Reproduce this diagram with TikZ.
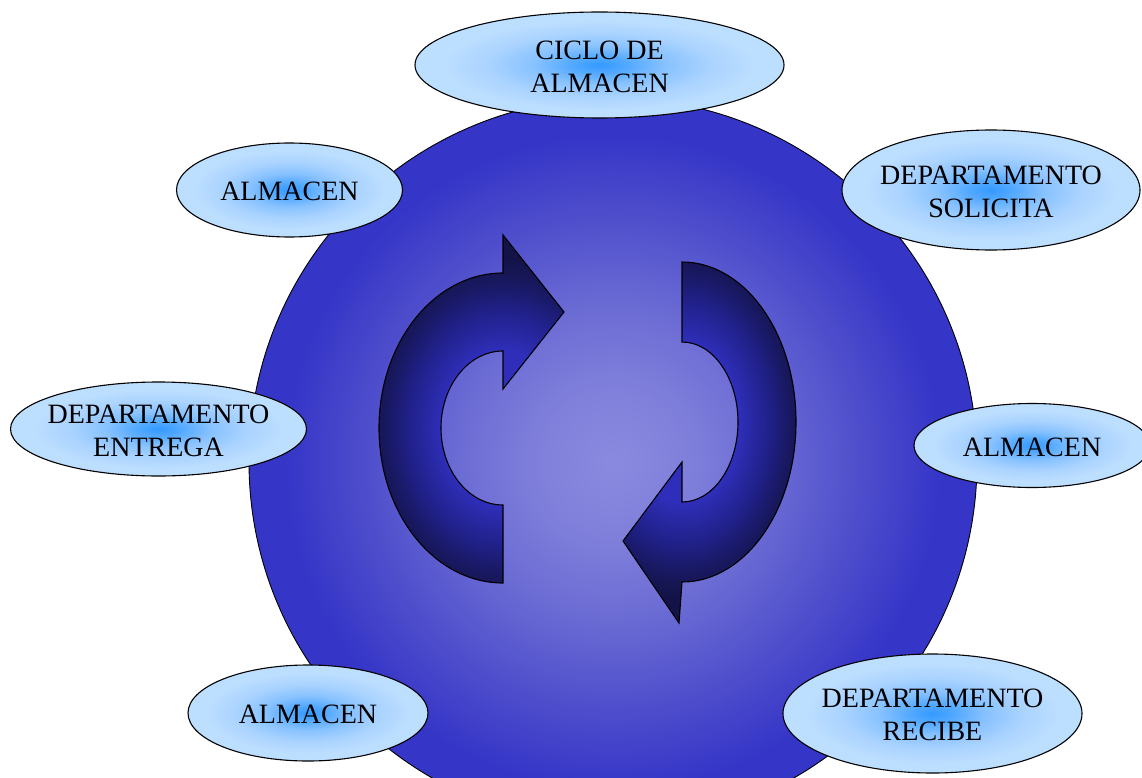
\documentclass[tikz,border=0pt]{standalone}
\usepackage{fontspec}
\setmainfont{Liberation Serif}
\usetikzlibrary{shapes.geometric}

% palette
\definecolor{diskC}{HTML}{8A8AE0}
\definecolor{diskB}{HTML}{8080DB}
\definecolor{diskM}{HTML}{6A6AD4}
\definecolor{diskN}{HTML}{4E4ECC}
\definecolor{diskE}{HTML}{3535C8}
\definecolor{bubC}{HTML}{3399FF}
\definecolor{bubB}{HTML}{55AAFF}
\definecolor{bubM}{HTML}{88C2FF}
\definecolor{bubN}{HTML}{AAD3FF}
\definecolor{bubE}{HTML}{BCDEFF}
\definecolor{bandL}{HTML}{2E2EBA}
\definecolor{bandA}{HTML}{2929A6}
\definecolor{bandB}{HTML}{21218C}
\definecolor{bandC}{HTML}{1A1A6A}
\definecolor{bandD}{HTML}{161656}
\definecolor{bandE}{HTML}{131348}

% TikZ fits a path into the central 50bp square of a shading,
% so the rim of each shaded shape lies at 25bp.
% large disk: light centre, saturated rim
\pgfdeclareradialshading{diskshade}{\pgfpoint{0bp}{0bp}}{%
  color(0bp)=(diskC); color(5bp)=(diskB); color(11bp)=(diskM);
  color(17bp)=(diskN); color(22.5bp)=(diskE); color(25bp)=(diskE); color(50bp)=(diskE)}
% bubbles: bright blue core fading to pale blue
\pgfdeclareradialshading{bubbleshade}{\pgfpoint{0bp}{0bp}}{%
  color(0bp)=(bubC); color(4bp)=(bubB); color(9bp)=(bubM);
  color(15bp)=(bubN); color(21bp)=(bubE); color(25bp)=(bubE); color(50bp)=(bubE)}
% curved arrows: light along the inner rim, dark along the outer rim
% (shaded box is 1.4 times the outer ellipse, so the outer rim sits at 17.86bp)
\pgfdeclareradialshading{bandshade}{\pgfpoint{0bp}{0bp}}{%
  color(0bp)=(bandL); color(8.93bp)=(bandL); color(10.71bp)=(bandA);
  color(13.39bp)=(bandB); color(16.07bp)=(bandC); color(17.86bp)=(bandD);
  color(19.64bp)=(bandE); color(50bp)=(bandE)}

\tikzset{
  disk/.style={circle, draw=black, line width=0.9pt, shade, shading=diskshade,
    inner sep=0pt, minimum size=728},
  bubble/.style={ellipse, draw=black, line width=1.1pt, shade, shading=bubbleshade,
    inner sep=0pt},
  lbl/.style={font=\fontsize{28}{33}\selectfont, align=center, inner sep=0pt,
    text=black, yshift=-1.5pt},
  arrowline/.style={draw=black, line width=1.1pt, line join=miter},
}

\def\leftcurve{(503,583) arc[start angle=90, end angle=270, x radius=124, y radius=155]
  -- (503,235) -- (564,312) -- (503,389) -- (503,351)
  arc[start angle=270, end angle=90, x radius=62, y radius=77] -- cycle}
\def\rightcurve{(682,262) arc[start angle=-90, end angle=90, x radius=114, y radius=160]
  -- (679,623) -- (623,541) -- (682,462) -- (682,502)
  arc[start angle=90, end angle=-90, x radius=56, y radius=80] -- cycle}

\begin{document}
\begin{tikzpicture}[x=1pt, y=-1pt]
\useasboundingbox (0,0) rectangle (1142,778);
\clip (0,0) rectangle (1142,778);

% central disk
\node[disk] (hub) at (613,462) {};

% cycle arrows
\begin{scope}
  \clip \leftcurve;
  \shade[shading=bandshade] (329.4,211) rectangle (676.6,645);
\end{scope}
\path[arrowline] \leftcurve;
\begin{scope}
  \clip \rightcurve;
  \shade[shading=bandshade] (522.4,198) rectangle (841.6,646);
\end{scope}
\path[arrowline] \rightcurve;

% surrounding bubbles
\node[bubble, minimum width=369, minimum height=106] (ciclo) at (599.5,65) {};
\node[lbl] (ciclo-t) at (ciclo.center) {CICLO DE\\ALMACEN};

\node[bubble, minimum width=226, minimum height=94] (almA) at (289.5,190) {};
\node[lbl] (almA-t) at (almA.center) {ALMACEN};

\node[bubble, minimum width=298, minimum height=120] (solicita) at (991,190) {};
\node[lbl] (solicita-t) at (solicita.center) {DEPARTAMENTO\\SOLICITA};

\node[bubble, minimum width=296, minimum height=94] (entrega) at (158.5,429) {};
\node[lbl] (entrega-t) at (entrega.center) {DEPARTAMENTO\\ENTREGA};

\node[bubble, minimum width=236, minimum height=84] (almB) at (1032,445.5) {};
\node[lbl] (almB-t) at (almB.center) {ALMACEN};

\node[bubble, minimum width=240, minimum height=96] (almC) at (308,713) {};
\node[lbl] (almC-t) at (almC.center) {ALMACEN};

\node[bubble, minimum width=299, minimum height=119] (recibe) at (932.5,713.5) {};
\node[lbl] (recibe-t) at (recibe.center) {DEPARTAMENTO\\RECIBE};
\end{tikzpicture}
\end{document}
